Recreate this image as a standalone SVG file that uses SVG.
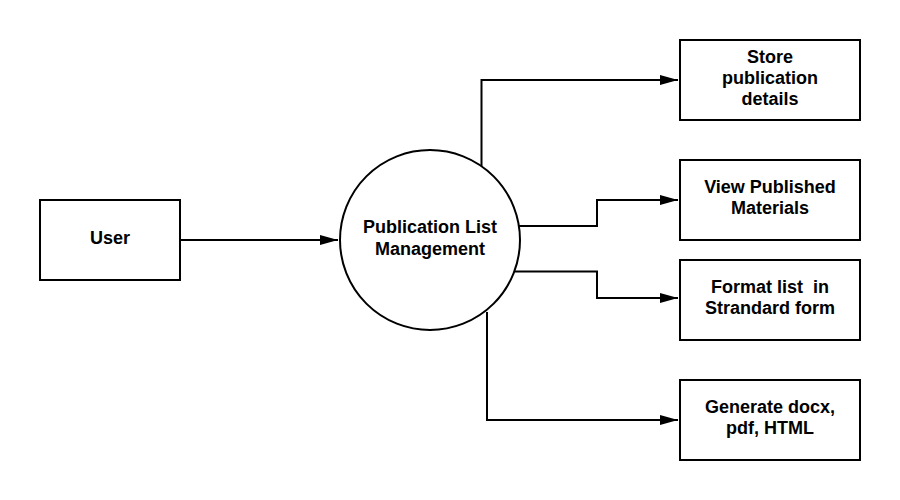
<svg xmlns="http://www.w3.org/2000/svg" width="900" height="500" viewBox="0 0 900 500">
<style>
.box{fill:#fff;stroke:#000;stroke-width:2}
.lbl{font-family:"Liberation Sans",Arial,sans-serif;font-weight:bold;font-size:18px;fill:#000;text-anchor:middle;white-space:pre}
.edge{fill:none;stroke:#000;stroke-width:2}
</style>
<defs>
<marker id="arr" markerUnits="userSpaceOnUse" markerWidth="18" markerHeight="10" refX="18" refY="5" orient="auto">
<path d="M0,0 L18,5 L0,10 z" fill="#000"/>
</marker>
</defs>
<rect width="900" height="500" fill="#fff"/>
<g id="connectors">
<path class="edge" d="M180,240 L338,240" marker-end="url(#arr)"/>
<path class="edge" d="M481.5,166 L481.5,80 L678,80" marker-end="url(#arr)"/>
<path class="edge" d="M512,226 L597,226 L597,200 L678,200" marker-end="url(#arr)"/>
<path class="edge" d="M515,271.5 L597,271.5 L597,298 L678,298" marker-end="url(#arr)"/>
<path class="edge" d="M487,312 L487,420 L678,420" marker-end="url(#arr)"/>
</g>
<g id="user">
<rect class="box" x="40" y="200" width="140" height="80"/>
<text class="lbl" x="110" y="244">User</text>
</g>
<g id="plm">
<circle class="box" cx="430" cy="240" r="90"/>
<text class="lbl" x="430" y="233">Publication List</text>
<text class="lbl" x="430" y="254.5">Management</text>
</g>
<g id="store">
<rect class="box" x="680" y="40" width="180" height="80"/>
<text class="lbl" x="770" y="63">Store</text>
<text class="lbl" x="770" y="84">publication</text>
<text class="lbl" x="770" y="105">details</text>
</g>
<g id="view">
<rect class="box" x="680" y="160" width="180" height="80"/>
<text class="lbl" x="770" y="193">View Published</text>
<text class="lbl" x="770" y="214">Materials</text>
</g>
<g id="format">
<rect class="box" x="680" y="260" width="180" height="80"/>
<text class="lbl" x="770" y="293">Format list  in</text>
<text class="lbl" x="770" y="314">Strandard form</text>
</g>
<g id="generate">
<rect class="box" x="680" y="380" width="180" height="80"/>
<text class="lbl" x="770" y="413">Generate docx,</text>
<text class="lbl" x="770" y="434">pdf, HTML</text>
</g>
</svg>
